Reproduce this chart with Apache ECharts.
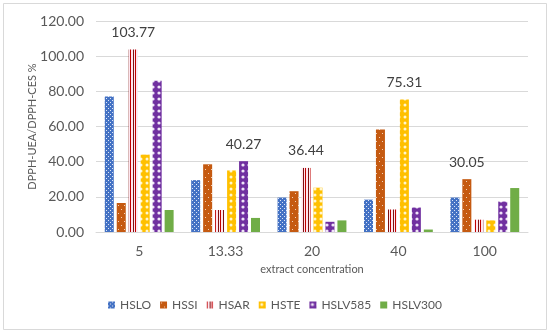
<!DOCTYPE html>
<html><head><meta charset="utf-8">
<script src="https://cdn.jsdelivr.net/npm/echarts@6/dist/echarts.min.js"></script>
<style>html,body{margin:0;padding:0;background:#fff}#c{width:550px;height:334px}</style>
</head><body><div id="c"></div>
<script>
const categories = ['5', '13.33', '20', '40', '100'];
const seriesNames = ['HSLO', 'HSSI', 'HSAR', 'HSTE', 'HSLV585', 'HSLV300'];
const HSLO = [77.0, 29.5, 19.6, 18.4, 19.6];
const HSSI = [16.5, 38.5, 23.2, 58.3, 30.05];
const HSAR = [103.77, 12.5, 36.44, 12.8, 7.0];
const HSTE = [44.0, 35.0, 25.2, 75.31, 6.6];
const HSLV585 = [86.0, 40.27, 5.8, 13.9, 17.3];
const HSLV300 = [12.5, 8.0, 6.6, 1.4, 25.0];
// which series carries the data label in each category
const labelledSeries = ['HSAR', 'HSLV585', 'HSAR', 'HSTE', 'HSSI'];
const yTicks = [0, 20, 40, 60, 80, 100, 120];

const values = {HSLO, HSSI, HSAR, HSTE, HSLV585, HSLV300};
const FONT = 'Lato';

function pat(w, h, draw) {
  const c = document.createElement('canvas');
  c.width = w; c.height = h;
  draw(c.getContext('2d'));
  return {image: c, repeat: 'repeat'};
}
const fills = {
  HSLO: pat(4, 4, g => { g.fillStyle = '#4472C4'; g.fillRect(0,0,4,4); g.fillStyle = '#dfe7f7'; g.fillRect(0,0,1,1); g.fillRect(2,2,1,1); }),
  HSSI: pat(6, 8, g => { g.fillStyle = '#C55A11'; g.fillRect(0,0,6,8); g.fillStyle = '#f3d2b8'; g.fillRect(1,1,1,1); g.fillRect(4,5,1,1); }),
  HSAR: pat(5, 4, g => { g.fillStyle = '#fde6ee'; g.fillRect(0,0,5,4); g.fillStyle = '#C00000'; g.fillRect(0,0,1,4); g.fillStyle = '#7f1010'; g.fillRect(3,0,1,4); }),
  HSTE: pat(6, 6, g => { g.fillStyle = '#FFC000'; g.fillRect(0,0,6,6); g.fillStyle = '#fff6d0'; g.beginPath(); g.arc(3,3,1.5,0,Math.PI*2); g.fill(); }),
  HSLV585: pat(6, 6, g => { g.fillStyle = '#7030A0'; g.fillRect(0,0,6,6); g.fillStyle = '#efe4f7'; g.beginPath(); g.arc(3,3,1.6,0,Math.PI*2); g.fill(); }),
  HSLV300: '#70AD47'
};

const series = seriesNames.map(name => ({
  name,
  type: 'bar',
  barWidth: 9,
  barGap: '33%',
  itemStyle: {color: fills[name]},
  data: values[name].map((v, i) => labelledSeries[i] === name
    ? {value: v, label: {show: true, position: 'top', distance: 10, formatter: p => p.value.toFixed(2), color: '#404040', fontSize: 14, fontFamily: FONT}}
    : v)
}));

const chart = echarts.init(document.getElementById('c'), null, {renderer: 'canvas'});
chart.setOption({
  animation: false,
  backgroundColor: '#fff',
  textStyle: {fontFamily: FONT},
  graphic: [{type: 'rect', shape: {x: 3.5, y: 3.5, width: 543, height: 326}, style: {fill: 'none', stroke: '#d9d9d9', lineWidth: 1}}],
  grid: {left: 96, right: 22, top: 21, bottom: 102},
  legend: {
    bottom: 18, left: 'center', itemWidth: 7, itemHeight: 7, itemGap: 9,
    textStyle: {color: '#595959', fontSize: 12, fontFamily: FONT},
    data: seriesNames, icon: 'rect'
  },
  xAxis: {
    type: 'category', data: categories,
    name: 'extract concentration', nameLocation: 'middle', nameGap: 32,
    nameTextStyle: {color: '#595959', fontSize: 11, fontFamily: FONT},
    axisLine: {lineStyle: {color: '#d9d9d9'}}, axisTick: {show: false},
    axisLabel: {color: '#595959', fontSize: 14, margin: 12, fontFamily: FONT}
  },
  yAxis: {
    type: 'value', min: 0, max: 120, interval: 20,
    name: 'DPPH-UEA/DPPH-CES %', nameLocation: 'middle', nameGap: 58, nameMoveOverlap: false,
    nameTextStyle: {color: '#595959', fontSize: 11, fontFamily: FONT},
    axisLine: {show: false}, axisTick: {show: false},
    splitLine: {lineStyle: {color: '#d9d9d9'}},
    axisLabel: {color: '#595959', fontSize: 14, margin: 12, fontFamily: FONT, formatter: v => yTicks.includes(v) ? v.toFixed(2) : ''}
  },
  series
});
</script></body></html>
